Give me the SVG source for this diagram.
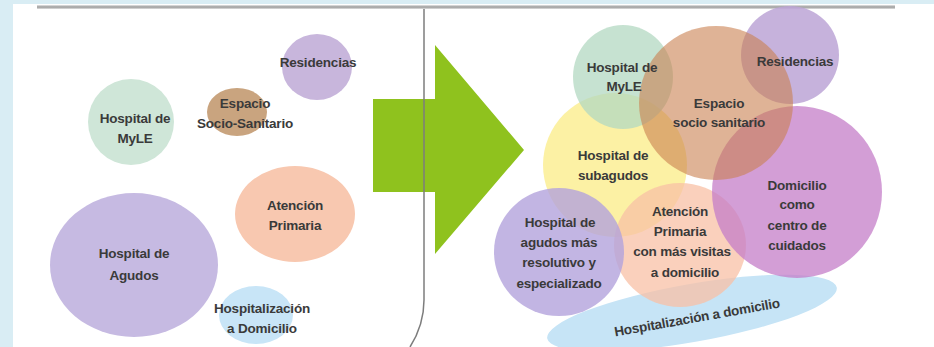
<svg xmlns="http://www.w3.org/2000/svg" width="934" height="347" viewBox="0 0 934 347">
<defs>
<linearGradient id="topline" x1="0" y1="0" x2="0" y2="1">
<stop offset="0" stop-color="#e8e8e8"/>
<stop offset="0.5" stop-color="#9a9a9a"/>
<stop offset="1" stop-color="#e0e0e0"/>
</linearGradient>
</defs>
<style>
text{font-family:"Liberation Sans",Arial,sans-serif;font-weight:bold;font-size:13.5px;fill:#3a3a3a;text-anchor:middle;letter-spacing:-0.2px}
</style>
<rect x="0" y="0" width="934" height="347" fill="#d9edf4"/>
<rect x="13" y="4" width="921" height="343" fill="#ffffff"/>
<rect x="37" y="5" width="858" height="4" fill="url(#topline)"/>
<g id="arrow">
<polygon points="373,99 435,99 435,45 524,150 435,254 435,192 373,192" fill="#8fc21e"/>
</g>
<path d="M424 9 V300 Q424 325 410 347" fill="none" stroke="#7d7d7d" stroke-width="1.5"/>
<g id="left">
<g id="l-residencias"><ellipse cx="317" cy="67" rx="35" ry="33" fill="#c8b6dc"/><text x="318" y="67">Residencias</text></g>
<g id="l-myle"><ellipse cx="131" cy="122" rx="43" ry="43" fill="#cfe6d8"/><text x="135" y="123">Hospital de</text><text x="135" y="143">MyLE</text></g>
<g id="l-espacio"><ellipse cx="237" cy="112" rx="30" ry="24" fill="#c9a47f"/><text x="245" y="108">Espacio</text><text x="245" y="128">Socio-Sanitario</text></g>
<g id="l-atencion"><ellipse cx="295" cy="214" rx="60" ry="48" fill="#f8c8b0"/><text x="295" y="210">Atención</text><text x="295" y="230">Primaria</text></g>
<g id="l-agudos"><ellipse cx="134" cy="265" rx="84" ry="72" fill="#c6bae2"/><text x="134" y="258">Hospital de</text><text x="134" y="280">Agudos</text></g>
<g id="l-hospdom"><ellipse cx="256" cy="315" rx="37" ry="29" fill="#c8e5f7"/><text x="262" y="313">Hospitalización</text><text x="262" y="333">a Domicilio</text></g>
</g>
<g id="right">
<g id="r-hospdom"><ellipse cx="692" cy="313" rx="147" ry="29" transform="rotate(-10 692 313)" fill="#c6e4f6"/></g>
<g id="r-subagudos"><circle cx="615" cy="165" r="72" fill="#fcf1a4"/></g>
<g id="r-myle"><ellipse cx="623" cy="77" rx="50" ry="52" fill="#b3d8c2" opacity="0.75"/></g>
<g id="r-atencion"><ellipse cx="680" cy="245" rx="66" ry="62" fill="#f8c0a6" opacity="0.75"/></g>
<g id="r-agudos"><ellipse cx="559" cy="252" rx="65" ry="64" fill="#b3a3dc" opacity="0.8"/></g>
<g id="r-domicilio"><ellipse cx="797" cy="192" rx="85" ry="86" fill="#c47ec8" opacity="0.75"/></g>
<g id="r-residencias"><circle cx="790" cy="55" r="49" fill="#bca4d6" opacity="0.85"/></g>
<g id="r-espacio"><ellipse cx="716" cy="103" rx="77" ry="77" fill="#c98050" opacity="0.6"/></g>
<g id="r-labels">
<text x="622" y="72">Hospital de</text><text x="624" y="91">MyLE</text>
<text x="795" y="66">Residencias</text>
<text x="719" y="108">Espacio</text><text x="719" y="127">socio sanitario</text>
<text x="613" y="160">Hospital de</text><text x="613" y="180">subagudos</text>
<text x="797" y="190">Domicilio</text><text x="797" y="209">como</text><text x="797" y="230">centro de</text><text x="797" y="250">cuidados</text>
<text x="680" y="216">Atención</text><text x="680" y="236">Primaria</text><text x="682" y="256">con más visitas</text><text x="685" y="277">a domicilio</text>
<text x="560" y="227">Hospital de</text><text x="559" y="247">agudos más</text><text x="559" y="267">resolutivo y</text><text x="559" y="288">especializado</text>
<text x="697" y="322" transform="rotate(-10 697 317)">Hospitalización a domicilio</text>
</g>
</g>
</svg>
